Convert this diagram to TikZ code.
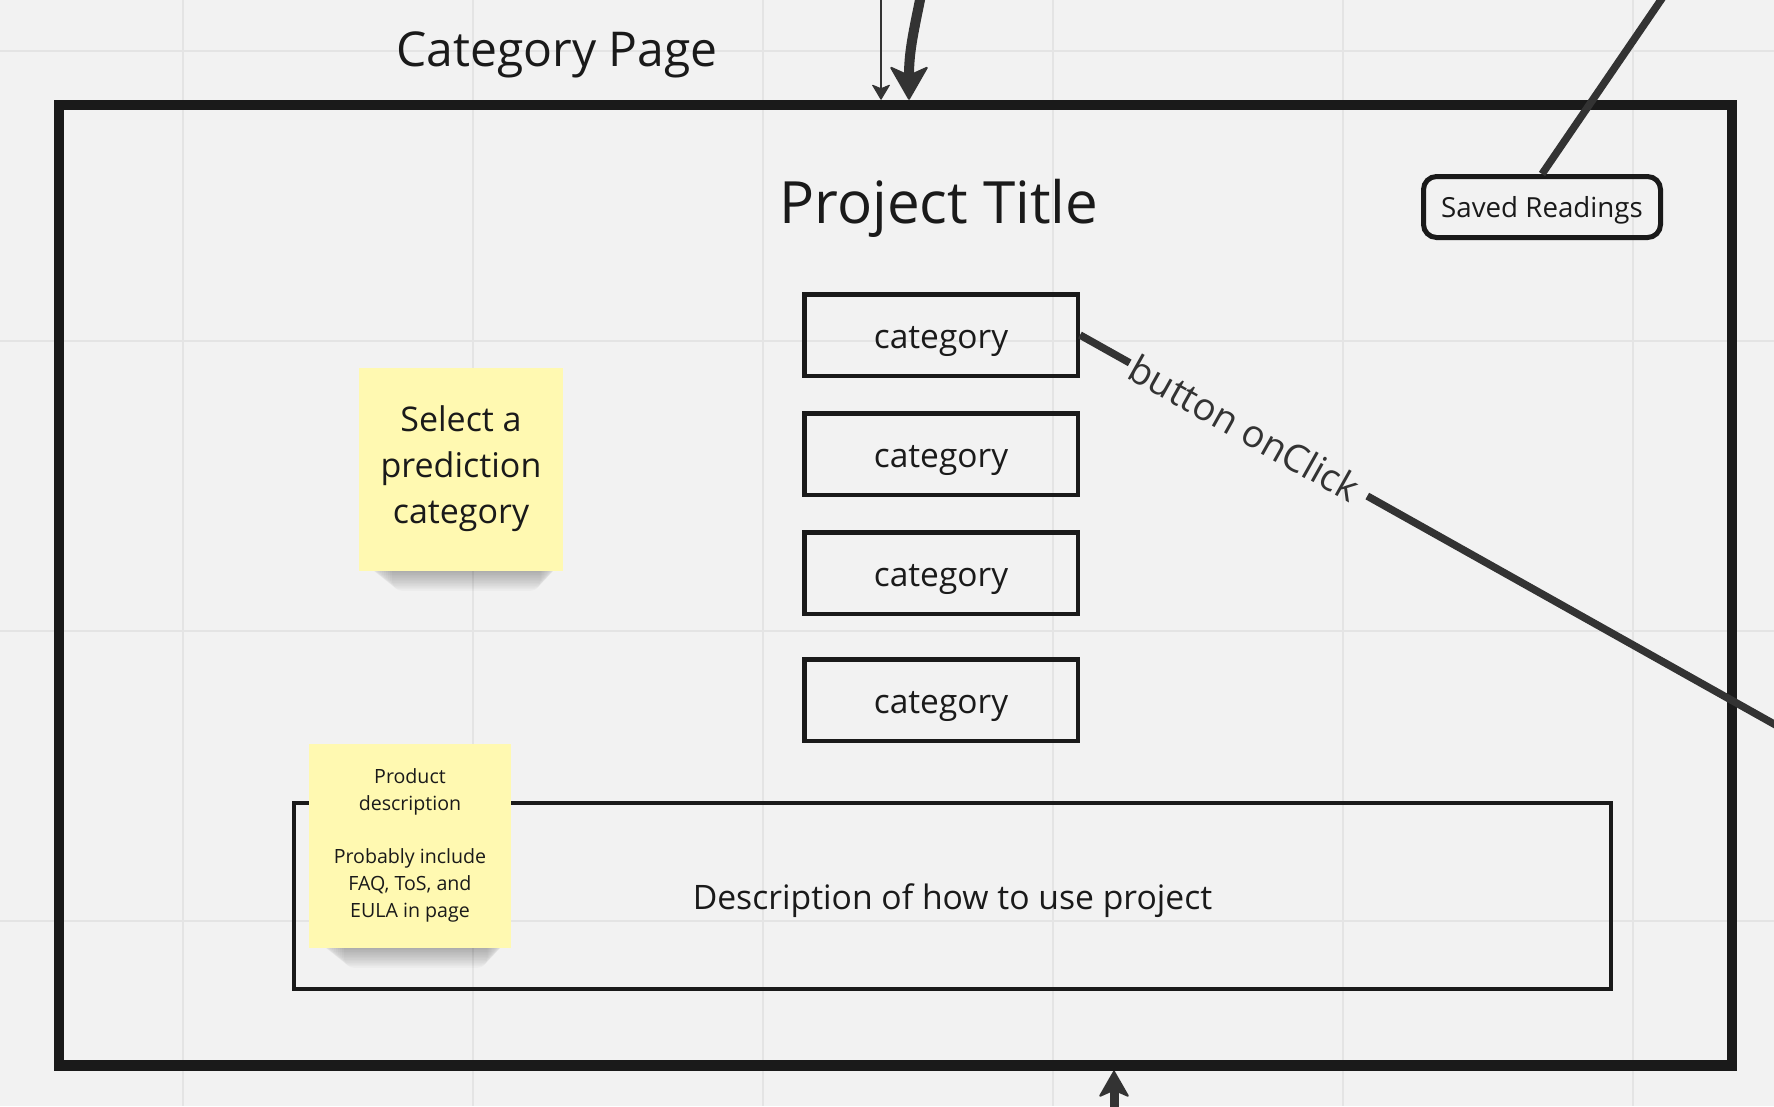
\documentclass[tikz,border=0pt]{standalone}
\usepackage{fontspec}
\setmainfont{Open Sans}
\usetikzlibrary{positioning,calc,arrows.meta}

\definecolor{boardbg}{HTML}{F2F2F2}
\definecolor{gridgray}{HTML}{E4E4E4}
\definecolor{inkblack}{HTML}{1A1A1A}
\definecolor{linkgray}{HTML}{333333}
\definecolor{stickyyellow}{HTML}{FFF9B1}
\newcommand{\mstrut}{\rule[-0.293em]{0pt}{1.362em}}

\begin{document}
\begin{tikzpicture}[x=1pt, y=-1pt,
gridline/.style={draw=gridgray, line width=2pt},
pagenode/.style={rectangle, draw=inkblack, line width=10.5pt, minimum width=1673pt, minimum height=960.5pt},
headtext/.style={text=inkblack, inner sep=0pt, execute at begin node=\mstrut},
catnode/.style={rectangle, draw=inkblack, line width=4.5pt, minimum width=273.5pt, minimum height=81.5pt, text=inkblack, font=\fontsize{33.5}{45.6}\selectfont, execute at begin node=\mstrut},
savednode/.style={rectangle, rounded corners=13pt, draw=inkblack, line width=5pt, minimum width=237pt, minimum height=61pt, text=inkblack, font=\fontsize{27.7}{37.7}\selectfont, execute at begin node=\mstrut},
descnode/.style={rectangle, draw=inkblack, line width=4pt, minimum width=1317pt, minimum height=186pt, text=inkblack, font=\fontsize{33.7}{45.9}\selectfont, execute at begin node=\mstrut},
stickynode/.style={rectangle, fill=stickyyellow, minimum width=204pt, minimum height=203pt, align=center, text=inkblack, execute at begin node=\mstrut, execute at end node=\mstrut},
stickyshadow/.style={fill=black, opacity=0.022, rounded corners=10pt},
linkline/.style={draw=linkgray, line width=7.5pt},
thinarrow/.style={draw=linkgray, line width=2.2pt, -{Stealth[length=16pt, width=19pt, inset=4pt, round, line width=1pt]}},
thickarrow/.style={draw=linkgray, line width=10pt, -{Stealth[length=35pt, width=40pt, inset=9pt, round, line width=2pt]}},
uparrow/.style={draw=linkgray, line width=9pt, -{Stealth[length=28pt, width=32pt, inset=7pt, round, line width=2pt]}},
clicklabel/.style={text=linkgray, inner sep=0pt, font=\fontsize{38}{51.8}\selectfont, execute at begin node=\mstrut},
]

%Board
\useasboundingbox (0,0) rectangle (1774,1106);
\clip (0,0) rectangle (1774,1106);
\fill[boardbg] (0,0) rectangle (1774,1106);
\foreach \gx in {183,473,...,1633} \draw[gridline] (\gx,0) -- (\gx,1106);
\foreach \gy in {51,341,...,921} \draw[gridline] (0,\gy) -- (1774,\gy);

%Nodes
\node[pagenode]  (page)      at (895.5,585.25) {};
\node[headtext, font=\fontsize{48}{65.4}\selectfont] (pagetitle) at (557,47.4) {Category Page};
\node[headtext, font=\fontsize{58.3}{79.4}\selectfont] (title)   at (939,200.9) {Project Title};
\node[savednode] (saved)     at (1542,207) {Saved Readings};

\node[catnode]   (cat1)      at (941,335) {category};
\node[catnode]   (cat2)      [below=33pt of cat1] {category};
\node[catnode]   (cat3)      [below=33pt of cat2] {category};
\node[catnode]   (cat4)      [below=41pt of cat3] {category};

\node[descnode]  (desc)      at (952.5,896) {Description of how to use project};

%Sticky notes (soft shadow first)
\foreach \k in {0,...,13} {
  \fill[stickyshadow] (366+2*\k,545) rectangle (560-1.5*\k,570+1.6*\k);
  \fill[stickyshadow] (318+2*\k,922) rectangle (507-1.5*\k,947+1.6*\k);
}
\node[stickynode, font=\fontsize{34}{46.3}\selectfont] (sticky1) at (461,469.5) {Select a\\prediction\\category};
\node[stickynode, minimum width=202pt, minimum height=204pt, font=\fontsize{19.6}{26.7}\selectfont] (sticky2) at (410,846) {Product\\description\\\mbox{}\\Probably include\\FAQ, ToS, and\\EULA in page};

%Free ends
\coordinate (thinsrc)   at (881,-10);
\coordinate (thicksrc)  at (922,-10);
\coordinate (thickdst)  at (909,0);
\coordinate (upsrc)     at (1114,1120);
\coordinate (savedend)  at (1678,-25);
\coordinate (clickend)  at (1800,738.6);

%Lines
\draw[thinarrow] (thinsrc) -- (thinsrc |- page.north);
\draw[thickarrow] (thicksrc) .. controls (914,30) and (909,50) .. (thickdst |- page.north);
\draw[uparrow] (upsrc) -- (upsrc |- page.south);
\draw[linkline] (saved.north) -- (savedend);
\draw[linkline] (cat1.east) -- ($(cat1.east)!0.069!(clickend)$);
\draw[linkline] ($(cat1.east)!0.399!(clickend)$) -- (clickend);
\path (cat1.east) -- (clickend) node[clicklabel, pos=0.229, sloped] (clicktext) {button onClick};

\end{tikzpicture}
\end{document}
